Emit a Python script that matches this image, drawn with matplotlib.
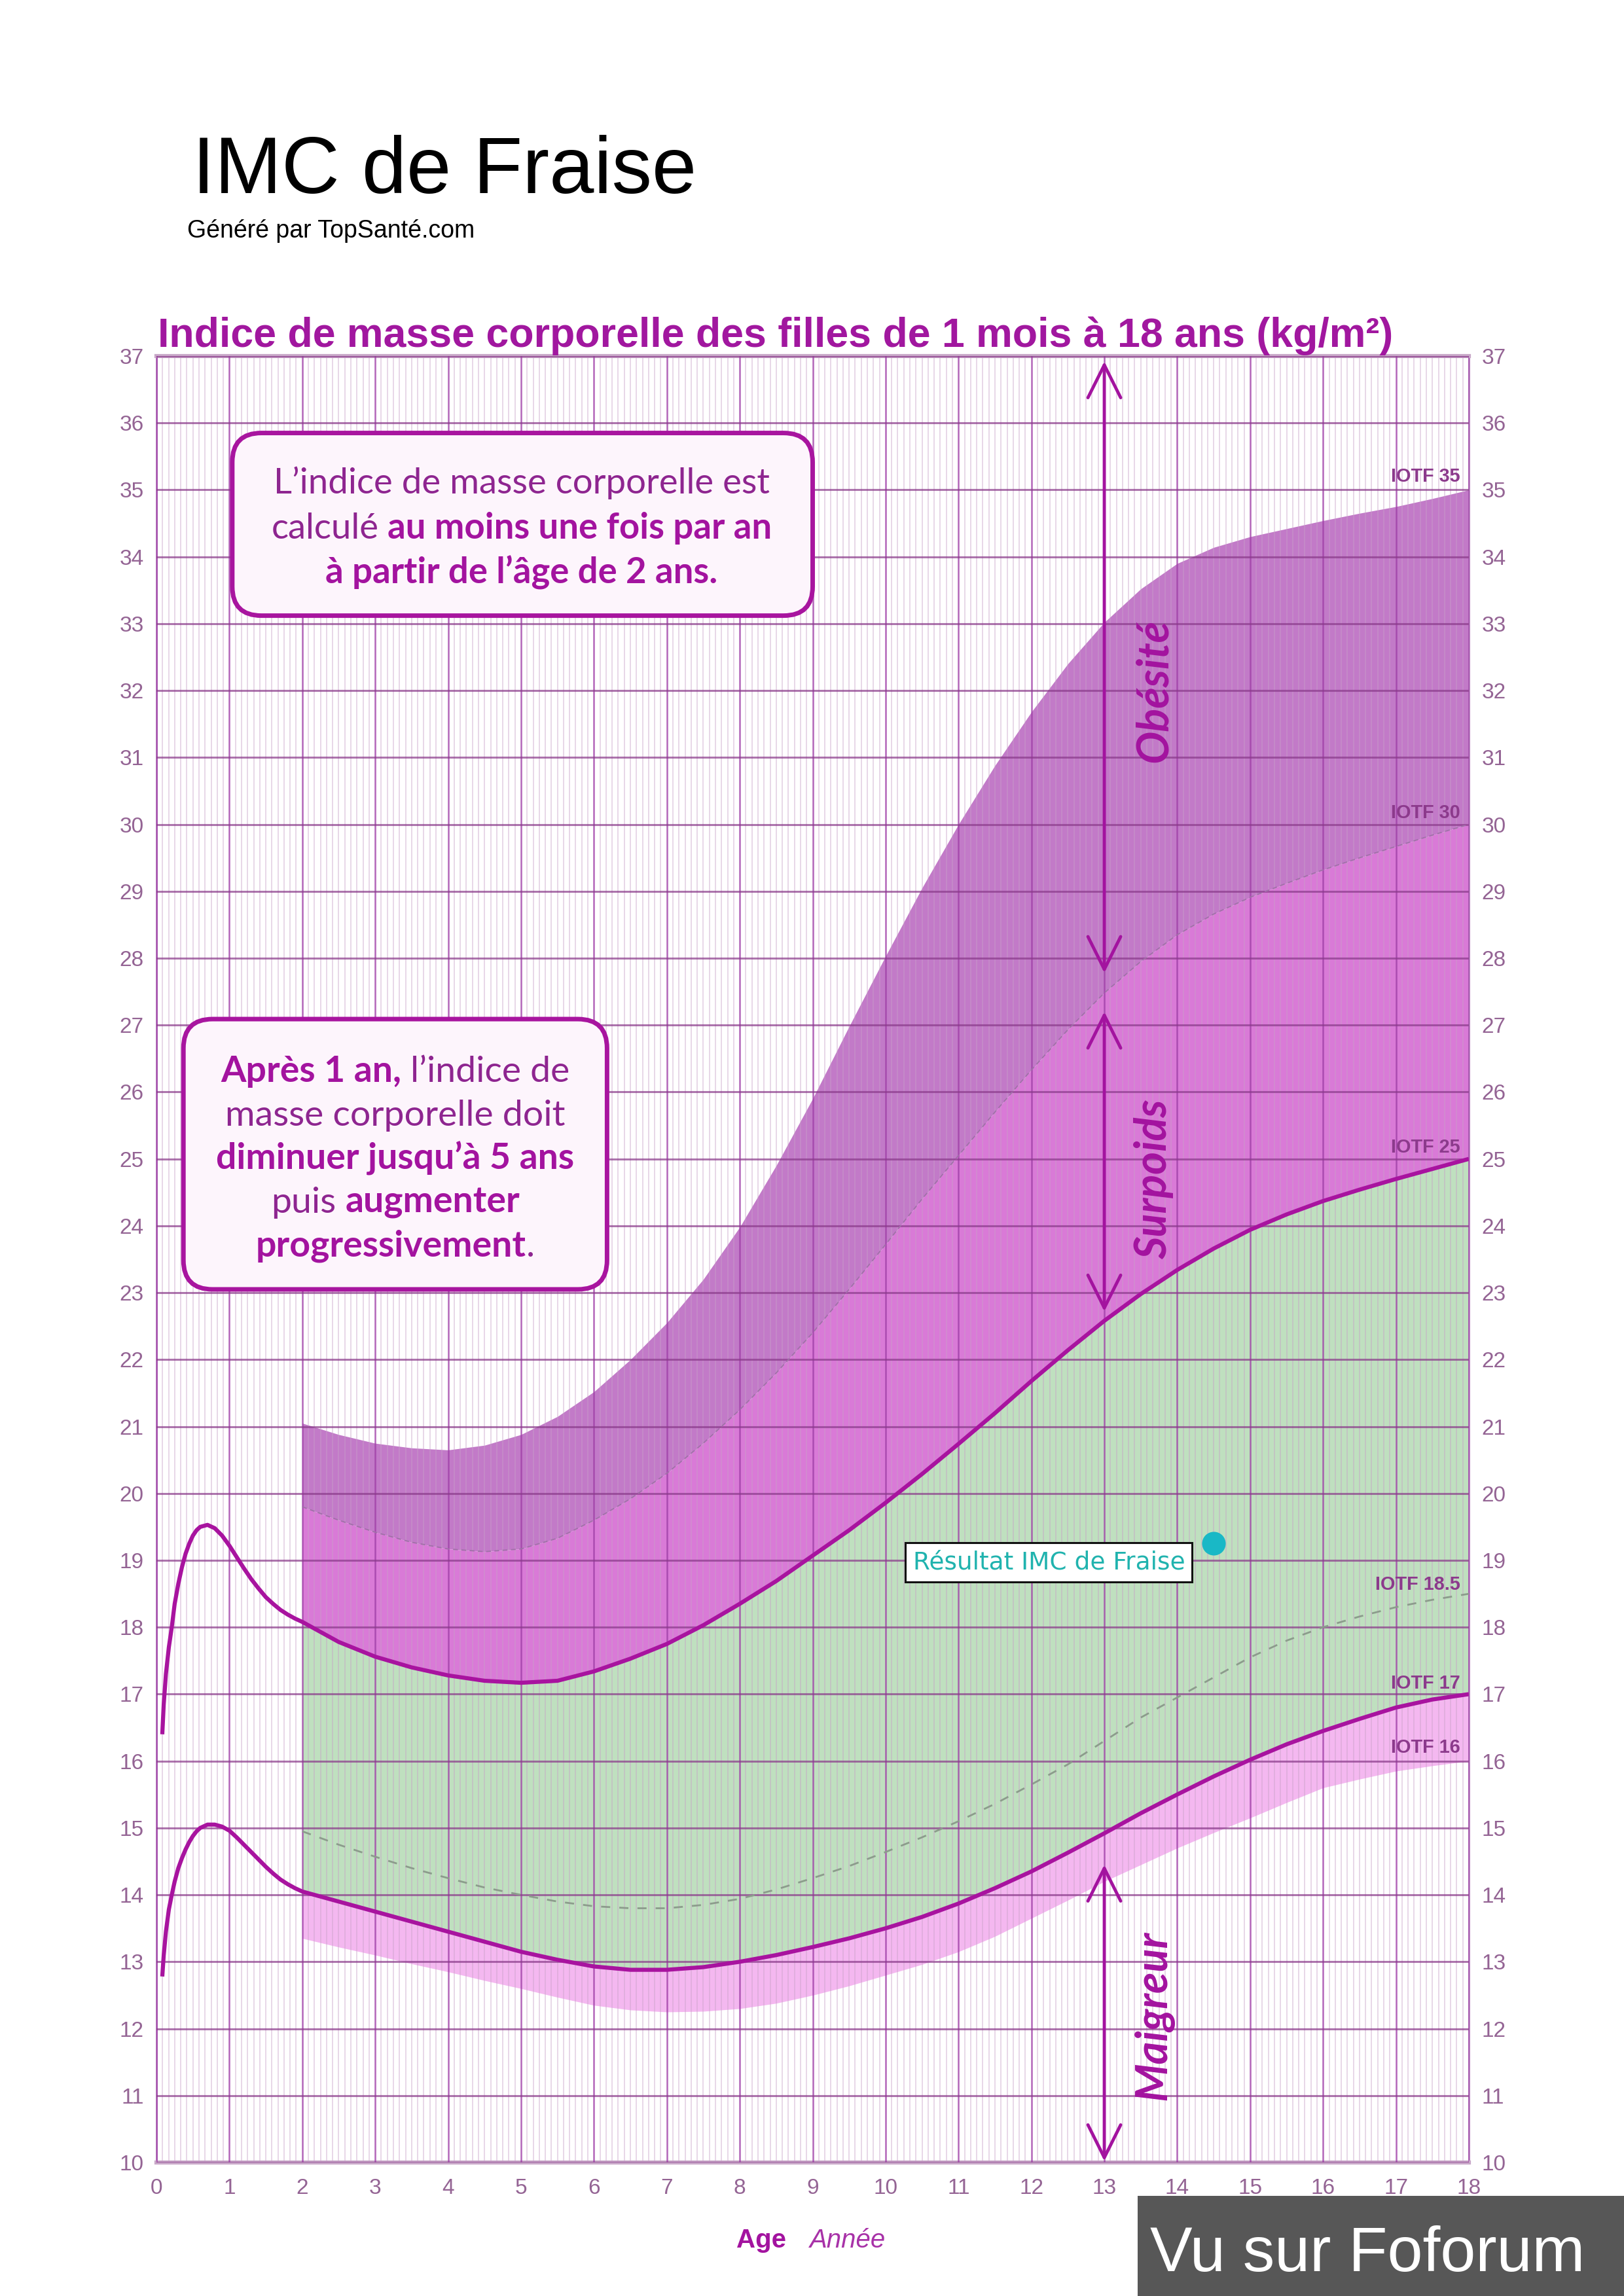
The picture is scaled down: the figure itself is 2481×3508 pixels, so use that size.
import numpy as np
import matplotlib
matplotlib.use('Agg')
import matplotlib.pyplot as plt
from matplotlib.patches import FancyBboxPatch, Rectangle
from matplotlib.transforms import IdentityTransform
from matplotlib import font_manager

# ---- data (BMI, kg/m2) ----
ages = [2.0, 2.5, 3.0, 3.5, 4.0, 4.5, 5.0, 5.5, 6.0, 6.5, 7.0, 7.5, 8.0, 8.5, 9.0, 9.5,
        10.0, 10.5, 11.0, 11.5, 12.0, 12.5, 13.0, 13.5, 14.0, 14.5, 15.0, 15.5, 16.0,
        16.5, 17.0, 17.5, 18.0]
iotf35 = [21.05, 20.88, 20.75, 20.68, 20.65, 20.72, 20.88, 21.15, 21.52, 22.0, 22.55, 23.2,
          23.98, 24.9, 25.9, 26.98, 28.03, 29.05, 30.0, 30.88, 31.68, 32.4, 33.02, 33.52, 33.9,
          34.14, 34.3, 34.42, 34.54, 34.65, 34.75, 34.87, 35.0]
iotf30 = [19.8, 19.6, 19.42, 19.27, 19.17, 19.13, 19.17, 19.33, 19.6, 19.92, 20.3, 20.75,
          21.25, 21.8, 22.4, 23.05, 23.72, 24.4, 25.05, 25.7, 26.33, 26.93, 27.48, 27.95,
          28.35, 28.66, 28.91, 29.12, 29.32, 29.5, 29.67, 29.84, 30.0]
iotf25 = [18.08, 17.78, 17.56, 17.4, 17.28, 17.2, 17.17, 17.2, 17.34, 17.53, 17.75, 18.03,
          18.35, 18.69, 19.07, 19.45, 19.86, 20.29, 20.74, 21.2, 21.68, 22.14, 22.58, 22.98,
          23.34, 23.66, 23.94, 24.17, 24.37, 24.54, 24.7, 24.85, 25.0]
iotf18_5 = [14.95, 14.75, 14.57, 14.4, 14.25, 14.11, 14.0, 13.9, 13.83, 13.8, 13.8, 13.85,
            13.94, 14.08, 14.25, 14.43, 14.64, 14.86, 15.1, 15.36, 15.65, 15.95, 16.3, 16.65,
            16.95, 17.25, 17.55, 17.8, 18.0, 18.16, 18.3, 18.41, 18.5]
iotf17 = [14.05, 13.9, 13.75, 13.6, 13.45, 13.3, 13.15, 13.03, 12.93, 12.88, 12.88, 12.92,
          13.0, 13.1, 13.22, 13.35, 13.5, 13.67, 13.87, 14.1, 14.35, 14.63, 14.92, 15.22,
          15.5, 15.77, 16.02, 16.25, 16.45, 16.63, 16.8, 16.92, 17.0]
iotf16 = [13.35, 13.22, 13.1, 12.97, 12.85, 12.72, 12.6, 12.47, 12.35, 12.28, 12.25, 12.26,
          12.3, 12.38, 12.5, 12.64, 12.8, 12.96, 13.15, 13.38, 13.65, 13.92, 14.2, 14.45,
          14.7, 14.93, 15.15, 15.38, 15.6, 15.73, 15.85, 15.93, 16.0]

# first two years (only the 25 and 17 curves)
baby_ages = [0.08, 0.1, 0.13, 0.17, 0.21, 0.25, 0.3, 0.35, 0.4, 0.45, 0.5, 0.55, 0.6, 0.7,
             0.8, 0.9, 1.0, 1.1, 1.2, 1.3, 1.4, 1.5, 1.6, 1.7, 1.8, 1.9]
iotf25_baby = [16.4, 16.85, 17.3, 17.7, 18.0, 18.35, 18.65, 18.9, 19.1, 19.25, 19.37, 19.45,
               19.5, 19.53, 19.48, 19.37, 19.22, 19.05, 18.88, 18.72, 18.58, 18.45, 18.35,
               18.26, 18.19, 18.13]
iotf17_baby = [12.78, 13.1, 13.45, 13.78, 14.0, 14.2, 14.4, 14.55, 14.68, 14.79, 14.88, 14.95,
               15.0, 15.05, 15.05, 15.02, 14.96, 14.86, 14.75, 14.64, 14.53, 14.42, 14.32,
               14.23, 14.16, 14.1]

x_ticks = list(range(0, 19))
y_ticks = list(range(10, 38))

result_age = 14.5
result_bmi = 19.25
result_label = 'Résultat IMC de Fraise'

iotf_names = ['IOTF 35', 'IOTF 30', 'IOTF 25', 'IOTF 18.5', 'IOTF 17', 'IOTF 16']
iotf_name_y = [35.2, 30.17, 25.17, 18.64, 17.16, 16.2]

zone_names = ['Obésité', 'Surpoids', 'Maigreur']
zone_top = [36.92, 27.2, 14.45]
zone_bottom = [27.78, 22.72, 10.02]
zone_mid = [32.0, 24.7, 12.2]

# ---- figure ----
W, H = 2481, 3508
fig = plt.figure(figsize=(W / 100, H / 100), dpi=100)
fig.patch.set_facecolor('white')
ax = fig.add_axes([239 / W, 1 - 3304 / H, (2244 - 239) / W, (3304 - 544) / H])
R = fig.canvas.get_renderer()
PIX = IdentityTransform()

names = {f.name for f in font_manager.fontManager.ttflist}
narrow = 'Liberation Sans Narrow' if 'Liberation Sans Narrow' in names else 'Liberation Sans'

mag = '#a3139f'
purple_txt = '#8e2590'


def fit(t, w, vertical=False):
    bb = t.get_window_extent(R)
    cur = bb.height if vertical else bb.width
    t.set_fontsize(t.get_fontsize() * w / cur)


# bands
ax.fill_between(ages, iotf30, iotf35, color='#c27ac8', lw=0, zorder=1)
ax.fill_between(ages, iotf25, iotf30, color='#d97ad7', lw=0, zorder=1)
ax.fill_between(ages, iotf17, iotf25, color='#bfe0bf', lw=0, zorder=1)
ax.fill_between(ages, iotf16, iotf17, color='#f4b8f0', lw=0, zorder=1)

ax.plot(ages, iotf30, ls=(0, (4, 3)), color='#a070a8', lw=1.3, zorder=3)
ax.plot(ages, iotf18_5, ls=(0, (5, 5)), color='#8c9c8c', lw=2.0, zorder=3)
ax.plot(baby_ages + ages, iotf25_baby + iotf25, color='#a8139f', lw=4.5,
        solid_capstyle='butt', solid_joinstyle='round', zorder=4)
ax.plot(baby_ages + ages, iotf17_baby + iotf17, color='#a8139f', lw=4.5,
        solid_capstyle='butt', solid_joinstyle='round', zorder=4)

# axes, grid
ax.set_xlim(0, 18)
ax.set_ylim(10, 37)
ax.set_xticks(x_ticks)
ax.set_yticks(y_ticks)
ax.set_xticks(np.arange(0, 18.001, 1 / 12), minor=True)
ax.set_axisbelow(False)
ax.grid(which='minor', axis='x', color='#c8a0c8', alpha=0.45, lw=1.3)
ax.grid(which='major', axis='x', color='#a040a8', alpha=0.8, lw=1.8)
ax.grid(which='major', axis='y', color='#8a3a8a', alpha=0.7, lw=2.2)
ax.tick_params(which='both', length=0)
ax.tick_params(axis='y', labelleft=True, labelright=True, pad=14)
ax.tick_params(axis='x', pad=17)
for lab in ax.get_xticklabels() + ax.get_yticklabels():
    lab.set_fontfamily('Liberation Sans')
    lab.set_fontsize(24)
    lab.set_color('#946494')
for s in ['top', 'bottom']:
    ax.spines[s].set_color('#c8a8c8')
    ax.spines[s].set_linewidth(4.5)
for s in ['left', 'right']:
    ax.spines[s].set_color('#b070b8')
    ax.spines[s].set_linewidth(2)

# zone arrows
for name, top, bot, mid in zip(zone_names, zone_top, zone_bottom, zone_mid):
    ax.annotate('', xy=(13, top), xytext=(13, bot),
                arrowprops=dict(arrowstyle='<->,head_length=0.9,head_width=0.45',
                                color=mag, lw=3.5, shrinkA=0, shrinkB=0,
                                mutation_scale=40), zorder=5)
zone_txt = []
for name, mid in zip(zone_names, zone_mid):
    t = ax.text(13.68, mid, name, rotation=90, ha='center', va='center', family='Lato',
                fontweight='bold', fontstyle='italic', color=mag, fontsize=40, zorder=5)
    zone_txt.append(t)
fit(zone_txt[1], 244, vertical=True)
for t in zone_txt:
    t.set_fontsize(zone_txt[1].get_fontsize())

# IOTF labels
iotf_txt = []
for name, y in zip(iotf_names, iotf_name_y):
    t = ax.text(17.88, y, name, ha='right', va='center', family=narrow, fontweight='bold',
                color='#8c3a8c', fontsize=20, zorder=5)
    iotf_txt.append(t)
fit(iotf_txt[0], 106)
for t in iotf_txt:
    t.set_fontsize(iotf_txt[0].get_fontsize())

# result
ax.plot([result_age], [result_bmi], 'o', ms=26, color='#19b8c6', mec='none', zorder=6)
rt = ax.text(12.24, 18.97, result_label, ha='center', va='center', family='DejaVu Sans',
             color='#20b3ae', fontsize=24, zorder=6,
             bbox=dict(boxstyle='square,pad=0.3', fc='white', ec='#111111', lw=2.2))
fit(rt, 416)

# info boxes
for (x0, y0, x1, y1) in [(1.04, 33.12, 9.0, 35.85), (0.37, 23.05, 6.18, 27.09)]:
    ax.add_patch(FancyBboxPatch((x0, y0), x1 - x0, y1 - y0,
                                boxstyle='round,pad=0,rounding_size=0.4',
                                mutation_aspect=111.4 / 102.2, fc='#fdf5fc',
                                ec='#a8159f', lw=5, zorder=6))


def seg_width(s, bold, size):
    t = fig.text(0, 0, s, family='Lato', fontsize=size,
                 fontweight='bold' if bold else 'normal', transform=PIX)
    w = t.get_window_extent(R).width
    t.remove()
    return w


def line_width(parts, size):
    space = seg_width('n n', False, size) - seg_width('nn', False, size)
    total = 0
    offs = []
    for i, (s, bold) in enumerate(parts):
        gap = space if (i > 0 and s.startswith(' ')) else 0
        offs.append(total + gap)
        total += gap + seg_width(s.strip(), bold, size)
    return total, offs


def rich_line(parts, cx, cy, size):
    total, offs = line_width(parts, size)
    base = H - cy - 0.36 * size * 100 / 72
    for (s, bold), off in zip(parts, offs):
        fig.text(cx - total / 2 + off, base, s.strip(), transform=PIX, family='Lato',
                 fontsize=size, fontweight='bold' if bold else 'normal',
                 color=mag if bold else purple_txt, ha='left', va='baseline', zorder=7)


box1 = [[('L’indice de masse corporelle est', False)],
        [('calculé', False), (' au moins une fois par an', True)],
        [('à partir de l’âge de 2 ans.', True)]]
box2 = [[('Après 1 an,', True), (' l’indice de', False)],
        [('masse corporelle doit', False)],
        [('diminuer jusqu’à 5 ans', True)],
        [('puis', False), (' augmenter', True)],
        [('progressivement', True), ('.', False)]]

s1 = 30 * 758 / line_width(box1[0], 30)[0]
for parts, cy in zip(box1, [734, 803, 872]):
    rich_line(parts, 797, cy, s1)
s2 = 30 * 547 / line_width(box2[2], 30)[0]
for parts, cy in zip(box2, [1633, 1700, 1767, 1833, 1900]):
    rich_line(parts, 604, cy, s2)

# titles
t = fig.text(294, H - 295, 'IMC de Fraise', transform=PIX, family='Liberation Sans',
             fontsize=90, color='black', va='baseline')
fit(t, 770)
t = fig.text(286, H - 363, 'Généré par TopSanté.com', transform=PIX,
             family='Liberation Sans', fontsize=25, color='black', va='baseline')
fit(t, 440)
t = fig.text(241, H - 530, 'Indice de masse corporelle des filles de 1 mois à 18 ans (kg/m²)',
             transform=PIX, family=narrow, fontweight='bold', fontsize=50, color='#a1179f',
             va='baseline')
fit(t, 1887)

t = fig.text(1125, H - 3423, 'Age', transform=PIX, family=narrow, fontweight='bold',
             fontsize=28, color=mag, va='center')
fit(t, 76)
t = fig.text(1237, H - 3423, 'Année', transform=PIX, family=narrow, fontstyle='italic',
             fontsize=28, color='#a832a8', va='center')
fit(t, 116)

# footer stamp
fig.add_artist(Rectangle((1738, 0), W - 1738, 153, transform=PIX, color='#575757', lw=0))
t = fig.text(1757, 38, 'Vu sur Foforum', transform=PIX, family=narrow, fontsize=60,
             color='white', va='baseline')
fit(t, 664)

fig.savefig('out.png', dpi=100)
